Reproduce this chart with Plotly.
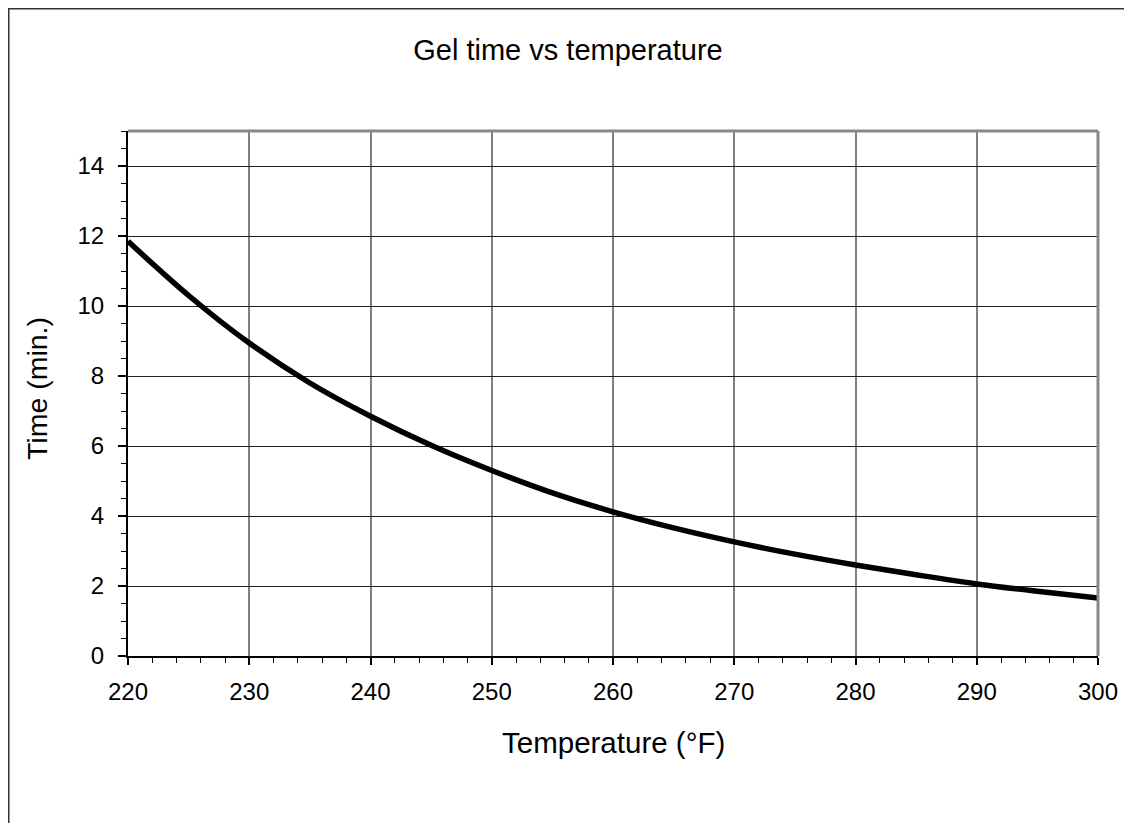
import plotly.graph_objects as go

temperature = [220, 225, 230, 235, 240, 245, 250, 255, 260, 265, 270, 275, 280, 285, 290, 295, 300]
gel_time = [11.85, 10.3, 8.94, 7.8, 6.85, 6.02, 5.3, 4.66, 4.12, 3.66, 3.26, 2.91, 2.6, 2.32, 2.06, 1.85, 1.66]

x_ticks = [220, 230, 240, 250, 260, 270, 280, 290, 300]
y_ticks = [0, 2, 4, 6, 8, 10, 12, 14]

W, H = 1132, 823
L, R, T, B = 120, 42, 123, 175
pw, ph = W - L - R, H - T - B

def px(xp):
    return (xp - L) / pw

def py(yp):
    return (H - B - yp) / ph

fig = go.Figure()
fig.add_trace(go.Scatter(
    x=temperature, y=gel_time, mode="lines",
    line=dict(color="black", width=5.5, shape="spline"),
    showlegend=False, hoverinfo="skip",
))

font = "Liberation Sans, Arial, sans-serif"
fig.update_layout(
    width=W, height=H,
    margin=dict(l=L, r=R, t=T, b=B, autoexpand=False),
    paper_bgcolor="white", plot_bgcolor="white",
    font=dict(family=font, color="black", size=24),
    title=dict(text="Gel time vs temperature", x=560 / W, xref="container", xanchor="center",
               y=1 - 42 / H, yref="container", yanchor="middle",
               font=dict(size=29, family=font, color="black")),
    xaxis=dict(
        range=[220, 300], tickvals=x_ticks, ticktext=[str(v) for v in x_ticks],
        ticks="outside", ticklen=7, tickwidth=1.5, tickcolor="black",
        showline=True, linecolor="black", linewidth=2,
        showgrid=True, gridcolor="#808080", gridwidth=1.5,
        zeroline=False, ticklabelstandoff=6,
        minor=dict(dtick=2, ticks="outside", ticklen=5, tickcolor="black", tickwidth=1, showgrid=False),
        tickfont=dict(size=24, family=font),
    ),
    yaxis=dict(
        range=[0, 15], tickvals=y_ticks, ticktext=[str(v) for v in y_ticks],
        ticks="outside", ticklen=8, tickwidth=1.5, tickcolor="black",
        showline=True, linecolor="black", linewidth=2,
        showgrid=True, gridcolor="#222222", gridwidth=1,
        zeroline=False, ticklabelstandoff=9,
        minor=dict(dtick=0.5, ticks="outside", ticklen=5, tickcolor="black", tickwidth=1, showgrid=False),
        tickfont=dict(size=24, family=font),
    ),
    annotations=[
        dict(text="Temperature (°F)", xref="paper", yref="paper", x=px(605), y=py(734),
             xanchor="center", yanchor="middle", showarrow=False,
             font=dict(size=29.5, family=font, color="black")),
        dict(text="Time (min.)", xref="paper", yref="paper", x=px(29), y=py(381),
             xanchor="center", yanchor="middle", showarrow=False, textangle=-90,
             font=dict(size=28.5, family=font, color="black")),
    ],
    shapes=[
        dict(type="line", xref="paper", yref="paper", x0=0, x1=1, y0=1, y1=1,
             line=dict(color="#888888", width=3)),
        dict(type="line", xref="paper", yref="paper", x0=1, x1=1, y0=0, y1=1,
             line=dict(color="#888888", width=3)),
        dict(type="rect", xref="paper", yref="paper", x0=px(0.5), x1=px(W + 10), y0=py(H + 10), y1=py(0.5),
             line=dict(color="#333333", width=2), fillcolor="rgba(0,0,0,0)", layer="above"),
    ],
)

fig.write_html("out.html")
